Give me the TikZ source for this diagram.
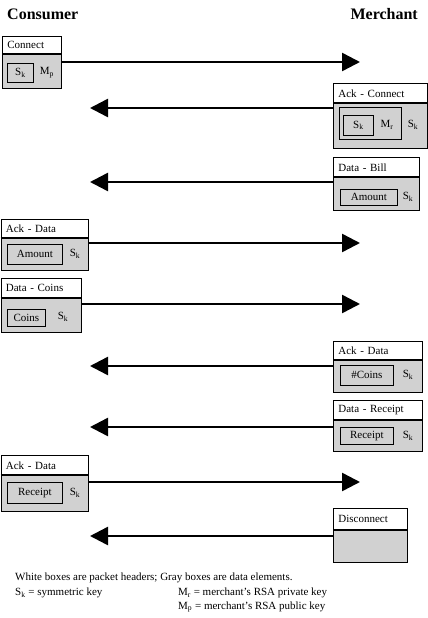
\documentclass[tikz,border=0pt]{standalone}
\usepackage{fontspec}
\setmainfont{Liberation Serif}
\usetikzlibrary{arrows.meta}

\begin{document}
\begin{tikzpicture}[x=1pt, y=-1pt, >={Triangle[length=18pt, width=18pt]}]

  % Styles for packet headers, data areas and message arrows
  \tikzset{
    hdr/.style={draw, fill=white, anchor=north west, line width=0.8pt,
      inner xsep=5pt, inner ysep=0pt, align=left, font=\fontsize{11}{12}\selectfont},
    dat/.style={draw, fill=black!18, anchor=north west, line width=0.8pt, inner sep=0pt},
    inbox/.style={draw, fill=black!18, anchor=north west, line width=0.8pt, inner sep=0pt,
      font=\fontsize{11}{12}\selectfont},
    lbl/.style={inner sep=0pt, font=\fontsize{11}{12}\selectfont},
    sep/.style={line width=2pt},
    msg/.style={line width=2.5pt, ->}
  }

  \useasboundingbox (0,0) rectangle (428,618);

  % 1. Titles
  \node[anchor=west, inner sep=0pt, font=\fontsize{16}{18}\selectfont\bfseries] (cons) at (7,14) {Consumer};
  \node[anchor=east, inner sep=0pt, font=\fontsize{16}{18}\selectfont\bfseries] (merc) at (418,14) {Merchant};

  % 2. Connect (consumer -> merchant)
  \node[hdr, text width=49, minimum height=18] (connH) at (2,36) {Connect};
  \node[dat, minimum width=59, minimum height=34] (connD) at (2,54) {};
  \draw[sep] (connD.north west) -- (connD.north east);
  \node[inbox, minimum width=26, minimum height=19] (connK) at (7,63) {S\textsubscript{k}};
  \node[lbl] (connM) at (47,73) {M\textsubscript{p}};
  \coordinate (t1) at (360,62);
  \draw[msg] (t1 -| connD.east) -- (t1);

  % 3. Ack - Connect (merchant -> consumer)
  \node[hdr, text width=84, minimum height=20] (ackcH) at (333,83) {Ack - Connect};
  \node[dat, minimum width=94, minimum height=45] (ackcD) at (333,103) {};
  \draw[sep] (ackcD.north west) -- (ackcD.north east);
  \node[inbox, minimum width=62, minimum height=32] (ackcE) at (339,107) {};
  \node[inbox, minimum width=30, minimum height=20] (ackcK) at (343,115) {S\textsubscript{k}};
  \node[lbl] (ackcM) at (387,125) {M\textsubscript{r}};
  \node[lbl] (ackcS) at (413,125) {S\textsubscript{k}};
  \coordinate (t2) at (90,108);
  \draw[msg] (t2 -| ackcD.west) -- (t2);

  % 4. Data - Bill (merchant -> consumer)
  \node[hdr, text width=76, minimum height=20] (billH) at (333,157) {Data - Bill};
  \node[dat, minimum width=86, minimum height=33] (billD) at (333,177) {};
  \draw[sep] (billD.north west) -- (billD.north east);
  \node[inbox, minimum width=57, minimum height=16] (billA) at (340,189) {Amount};
  \node[lbl] (billS) at (408,197) {S\textsubscript{k}};
  \coordinate (t3) at (90,182);
  \draw[msg] (t3 -| billD.west) -- (t3);

  % 5. Ack - Data (consumer -> merchant)
  \node[hdr, text width=77.5, minimum height=19] (ackaH) at (0.5,219) {Ack - Data};
  \node[dat, minimum width=87.5, minimum height=32] (ackaD) at (0.5,238) {};
  \draw[sep] (ackaD.north west) -- (ackaD.north east);
  \node[inbox, minimum width=55, minimum height=20] (ackaA) at (7,244) {Amount};
  \node[lbl] (ackaS) at (75,254) {S\textsubscript{k}};
  \coordinate (t4) at (360,243);
  \draw[msg] (t4 -| ackaD.east) -- (t4);

  % 6. Data - Coins (consumer -> merchant)
  \node[hdr, text width=70.5, minimum height=20] (coinH) at (0.5,278) {Data - Coins};
  \node[dat, minimum width=80.5, minimum height=34] (coinD) at (0.5,298) {};
  \draw[sep] (coinD.north west) -- (coinD.north east);
  \node[inbox, minimum width=38, minimum height=17] (coinC) at (7,309) {Coins};
  \node[lbl] (coinS) at (63,317) {S\textsubscript{k}};
  \coordinate (t5) at (360,304);
  \draw[msg] (t5 -| coinD.east) -- (t5);

  % 7. Ack - Data (merchant -> consumer)
  \node[hdr, text width=79, minimum height=19] (ackbH) at (333,341) {Ack - Data};
  \node[dat, minimum width=89, minimum height=32] (ackbD) at (333,360) {};
  \draw[sep] (ackbD.north west) -- (ackbD.north east);
  \node[inbox, minimum width=53, minimum height=20] (ackbC) at (340,365) {\#Coins};
  \node[lbl] (ackbS) at (408,375) {S\textsubscript{k}};
  \coordinate (t6) at (90,366);
  \draw[msg] (t6 -| ackbD.west) -- (t6);

  % 8. Data - Receipt (merchant -> consumer)
  \node[hdr, text width=79, minimum height=20] (rcptH) at (333,400) {Data - Receipt};
  \node[dat, minimum width=89, minimum height=31] (rcptD) at (333,420) {};
  \draw[sep] (rcptD.north west) -- (rcptD.north east);
  \node[inbox, minimum width=53, minimum height=17] (rcptR) at (340,427) {Receipt};
  \node[lbl] (rcptS) at (408,436) {S\textsubscript{k}};
  \coordinate (t7) at (90,427);
  \draw[msg] (t7 -| rcptD.west) -- (t7);

  % 9. Ack - Data (consumer -> merchant)
  \node[hdr, text width=77.5, minimum height=20] (ackdH) at (0.5,455) {Ack - Data};
  \node[dat, minimum width=87.5, minimum height=36] (ackdD) at (0.5,475) {};
  \draw[sep] (ackdD.north west) -- (ackdD.north east);
  \node[inbox, minimum width=55, minimum height=21] (ackdR) at (7,482) {Receipt};
  \node[lbl] (ackdS) at (75,493) {S\textsubscript{k}};
  \coordinate (t8) at (360,482);
  \draw[msg] (t8 -| ackdD.east) -- (t8);

  % 10. Disconnect (merchant -> consumer)
  \node[hdr, text width=64, minimum height=22] (discH) at (333,508) {Disconnect};
  \node[dat, minimum width=74, minimum height=32] (discD) at (333,530) {};
  \draw[sep] (discD.north west) -- (discD.north east);
  \coordinate (t9) at (90,536);
  \draw[msg] (t9 -| discD.west) -- (t9);

  % --- LEGEND ---
  \node[lbl, anchor=west] (leg1) at (15,578)
    {White boxes are packet headers; Gray boxes are data elements.};
  \node[lbl, anchor=west] (leg2) at (15,593)
    {S\textsubscript{k} = symmetric key};
  \node[lbl, anchor=west] (leg3) at (178,593)
    {M\textsubscript{r} = merchant's RSA private key};
  \node[lbl, anchor=west] (leg4) at (178,607)
    {M\textsubscript{p} = merchant's RSA public key};

\end{tikzpicture}
\end{document}
